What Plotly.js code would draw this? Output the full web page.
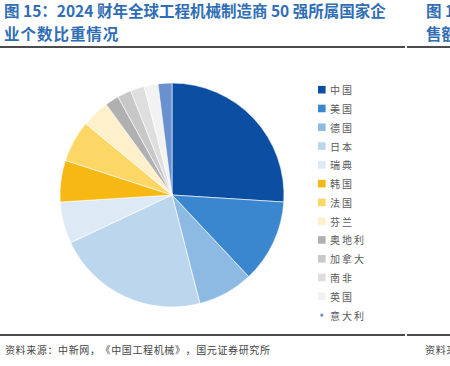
<!DOCTYPE html>
<html>
<head>
<meta charset="utf-8">
<script src="https://cdn.plot.ly/plotly-3.0.1.min.js"></script>
<style>
html,body{margin:0;padding:0;background:#fff;}
#chart{width:450px;height:366px;}
</style>
</head>
<body>
<div id="chart"></div>
<script>
// Data
var countries = ["中国","美国","德国","日本","瑞典","韩国","法国","芬兰","奥地利","加拿大","南非","英国","意大利"];
var companyCounts = [13, 6, 4, 11, 3, 3, 3, 2, 1, 1, 1, 1, 1];
var sliceColors = ["#0b4ea2","#3a87cf","#8dbae2","#bcd6ed","#ddeaf6","#f7b813","#fdd766","#fff0cc","#b0b0b0","#c8c8c8","#dedede","#f2f2f2","#6a90d0"];
var titleLine1 = "图 15：2024 财年全球工程机械制造商 50 强所属国家企";
var titleLine2 = "业个数比重情况";
var sourceText = "资料来源：中新网，《中国工程机械》，国元证券研究所";

var W = 450, H = 366;
function px(x){ return x / W; }
function py(y){ return 1 - y / H; }

var FONT = "Noto Sans CJK SC, Noto Sans, sans-serif";

var trace = {
  type: "pie",
  labels: countries,
  values: companyCounts,
  sort: false,
  direction: "clockwise",
  rotation: 0,
  textinfo: "none",
  hoverinfo: "label+value+percent",
  marker: { colors: sliceColors, line: { color: "#ffffff", width: 0.6 } },
  domain: { x: [px(60), px(284)], y: [py(307), py(83)] },
  showlegend: false
};

var shapes = [
  { type: "line", xref: "paper", yref: "paper", x0: 0, x1: px(405), y0: py(47), y1: py(47), line: { color: "#111", width: 1.6 } },
  { type: "line", xref: "paper", yref: "paper", x0: px(407), x1: 1, y0: py(47), y1: py(47), line: { color: "#111", width: 1.6 } },
  { type: "line", xref: "paper", yref: "paper", x0: 0, x1: px(405), y0: py(335), y1: py(335), line: { color: "#111", width: 1.6 } },
  { type: "line", xref: "paper", yref: "paper", x0: px(407), x1: 1, y0: py(335), y1: py(335), line: { color: "#111", width: 1.6 } }
];

function spaced(t, sp){ return t.split("").join(sp); }

var annotations = [
  { xref: "paper", yref: "paper", x: px(2), y: py(10), xanchor: "left", yanchor: "middle", showarrow: false,
    text: "<b>" + titleLine1 + "</b>", font: { family: FONT, size: 15.5, color: "#2f6db5" } },
  { xref: "paper", yref: "paper", x: px(2), y: py(33), xanchor: "left", yanchor: "middle", showarrow: false,
    text: "<b>" + spaced(titleLine2, "\u200A") + "</b>", font: { family: FONT, size: 15.5, color: "#2f6db5" } },
  { xref: "paper", yref: "paper", x: px(424), y: py(10), xanchor: "left", yanchor: "middle", showarrow: false,
    text: "<b>图 16：</b>", font: { family: FONT, size: 15.5, color: "#2f6db5" } },
  { xref: "paper", yref: "paper", x: px(424), y: py(33), xanchor: "left", yanchor: "middle", showarrow: false,
    text: "<b>售额</b>", font: { family: FONT, size: 15.5, color: "#2f6db5" } },
  { xref: "paper", yref: "paper", x: px(3), y: py(349), xanchor: "left", yanchor: "middle", showarrow: false,
    text: spaced(sourceText, "\u200A"), font: { family: FONT, size: 10, color: "#444" } },
  { xref: "paper", yref: "paper", x: px(423), y: py(349), xanchor: "left", yanchor: "middle", showarrow: false,
    text: spaced("资料来源", "\u200A"), font: { family: FONT, size: 10, color: "#444" } }
];

// Legend built from the category arrays
var legX = 318, legY0 = 89.7, legStep = 18.78;
countries.forEach(function(name, i){
  var cy = legY0 + i * legStep;
  var isLast = (i === countries.length - 1);
  var s = isLast ? 1.6 : 3.8;
  var cx = legX + 3.8;
  shapes.push({
    type: isLast ? "circle" : "rect", xref: "paper", yref: "paper",
    x0: px(cx - s), x1: px(cx + s), y0: py(cy + s), y1: py(cy - s),
    fillcolor: sliceColors[i], line: { width: 0 }
  });
  annotations.push({
    xref: "paper", yref: "paper", x: px(328), y: py(cy), xanchor: "left", yanchor: "middle", showarrow: false,
    text: spaced(name, "\u2009"), font: { family: FONT, size: 10, color: "#595959" }
  });
});

var layout = {
  width: W, height: H,
  margin: { l: 0, r: 0, t: 0, b: 0 },
  paper_bgcolor: "#ffffff",
  plot_bgcolor: "#ffffff",
  showlegend: false,
  shapes: shapes,
  annotations: annotations
};

Plotly.newPlot("chart", [trace], layout, { displayModeBar: false, staticPlot: true });
</script>
</body>
</html>
